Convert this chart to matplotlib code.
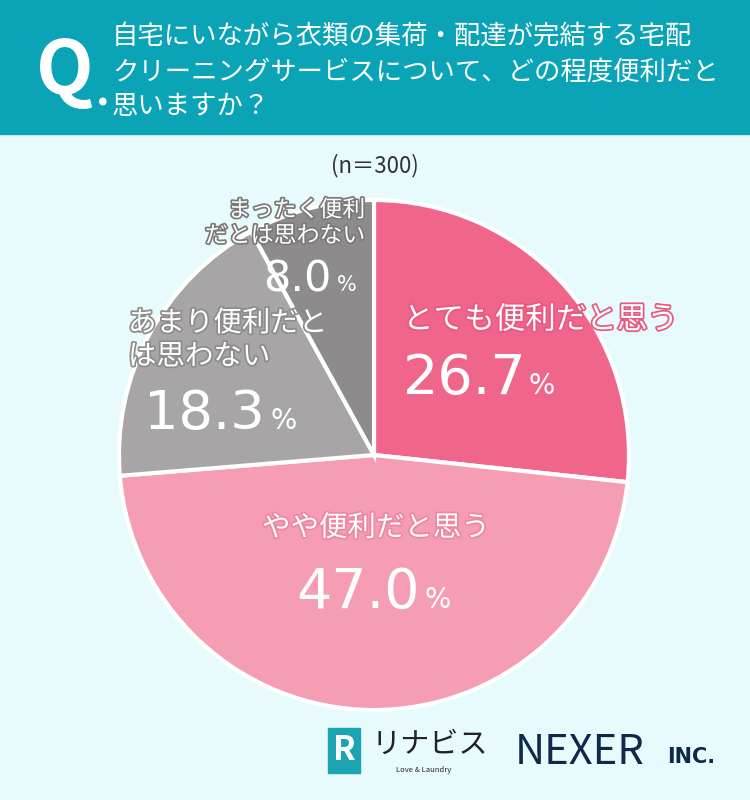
import matplotlib.pyplot as plt
import matplotlib.patheffects as pe

plt.rcParams['font.family'] = ['Noto Sans CJK JP', 'DejaVu Sans']

# データ
labels = ['とても便利だと思う', 'やや便利だと思う', 'あまり便利だと\nは思わない', 'まったく便利\nだとは思わない']
values = [26.7, 47.0, 18.3, 8.0]
colors = ['#f0668a', '#f49db3', '#a8a5a6', '#8d8b8c']
question = '自宅にいながら衣類の集荷・配達が完結する宅配\nクリーニングサービスについて、どの程度便利だと\n思いますか？'
n_text = '(n＝300)'

W, H = 750, 800
fig = plt.figure(figsize=(7.5, 8), dpi=100, facecolor='#e8fbfc')

# 背景 (ピクセル座標)
bg = fig.add_axes([0, 0, 1, 1])
bg.set_xlim(0, W)
bg.set_ylim(H, 0)
bg.axis('off')
bg.add_patch(plt.Rectangle((0, 0), W, 134, color='#0ba3b6', zorder=0))

# 円グラフ
cx, cy, r = 374, 455, 255
pax = fig.add_axes([(cx - r) / W, (H - cy - r) / H, 2 * r / W, 2 * r / H])
pax.pie(values, colors=colors, startangle=90, counterclock=False,
        wedgeprops=dict(edgecolor='white', linewidth=3))
pax.set_xlim(-1, 1)
pax.set_ylim(-1, 1)

# テキスト用の軸 (前面)
tx = fig.add_axes([0, 0, 1, 1])
tx.set_xlim(0, W)
tx.set_ylim(H, 0)
tx.axis('off')
tx.patch.set_alpha(0)

tx.text(36, 72, 'Q', color='white', fontsize=54, fontweight='bold', va='center', ha='left')
tx.text(96, 106, '.', color='white', fontsize=30, fontweight='bold', va='baseline', ha='left')
tx.text(112, 72, question, color='white', fontsize=19, va='center', ha='left', linespacing=1.38)
tx.text(375, 166, n_text, color='#333333', fontsize=16, ha='center', va='center')

def label(x, y, txt, size, stroke, ha='left', ls=1.25):
    tx.text(x, y, txt, color='white', fontsize=size, ha=ha, va='center', linespacing=ls,
            path_effects=[pe.withStroke(linewidth=2.5, foreground=stroke)])

def pct(x, y, v, size, px, psize):
    tx.text(x, y, f'{v:.1f}', color='white', fontsize=size, ha='left', va='baseline',
            family='DejaVu Sans')
    tx.text(px, y, '%', color='white', fontsize=psize, ha='left', va='baseline',
            family='DejaVu Sans')

# とても便利だと思う
label(403, 320, labels[0], 22, '#e8587f')
pct(403, 394, values[0], 40, 529, 20)

# やや便利だと思う
label(262, 528, labels[1], 20.5, '#ee86a3')
pct(296, 608, values[1], 40, 424, 20)

# あまり便利だとは思わない
label(128, 340, labels[2], 20.5, '#8e8b8c', ls=1.15)
pct(144, 429, values[2], 39, 270, 20)

# まったく便利だとは思わない
label(365, 223, labels[3], 16.5, '#7b797a', ha='right', ls=1.15)
pct(263, 291, values[3], 31, 337, 15)

# ロゴ
tx.add_patch(plt.Rectangle((328, 728), 32, 45, color='#1ba5b3'))
tx.text(344, 750, 'R', color='white', fontsize=24, fontweight='bold', ha='center', va='center')
tx.text(372, 745, 'リナビス', color='#222222', fontsize=21, ha='left', va='center')
tx.text(396, 770, 'Love & Laundry', color='#222222', fontsize=5.5, ha='left', va='center')
tx.text(515, 752, 'NEXER', color='#10284a', fontsize=30, ha='left', va='center')
tx.text(667, 757, 'INC.', color='#10284a', fontsize=15, fontweight='bold', ha='left', va='center',
        family='DejaVu Sans')

fig.savefig('out.png', dpi=100, facecolor=fig.get_facecolor())
